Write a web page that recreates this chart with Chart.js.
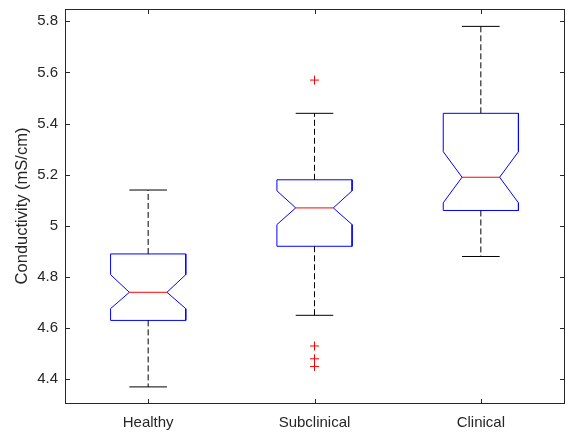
<!DOCTYPE html>
<html>
<head>
<meta charset="utf-8">
<script src="https://cdn.jsdelivr.net/npm/chart.js@4.4.0/dist/chart.umd.min.js"></script>
<style>
  html, body { margin: 0; padding: 0; background: #fff; }
  canvas { display: block; }
</style>
</head>
<body>
<canvas id="boxChart" width="567" height="433"></canvas>
<script>
// values (mS/cm)
const groups = ['Healthy', 'Subclinical', 'Clinical'];
const whiskerLow = [4.37, 4.65, 4.88];
const q1 = [4.63, 4.92, 5.06];
const notchLow = [4.676, 5.005, 5.09];
const median = [4.74, 5.07, 5.19];
const notchHigh = [4.809, 5.137, 5.29];
const q3 = [4.89, 5.18, 5.44];
const whiskerHigh = [5.14, 5.44, 5.78];
const outliers = [[], [5.57, 4.53, 4.48, 4.45], []];
const yTicks = [4.4, 4.6, 4.8, 5, 5.2, 5.4, 5.6, 5.8];

const FONT = '"Liberation Sans", Arial, Helvetica, sans-serif';
const TEXT = '#262626';
const HW = 0.226;      // half box width, in x units
const NW = HW / 2;     // half width at notch / caps

function lineSet(points, color, dash) {
  return {
    data: points,
    showLine: true,
    borderColor: color,
    borderWidth: 1,
    borderDash: dash || [],
    pointRadius: 0,
    fill: false,
    tension: 0
  };
}

const datasets = [];
groups.forEach((g, i) => {
  const x = i + 1;
  // dashed whiskers
  datasets.push(lineSet([{x: x, y: q3[i]}, {x: x, y: whiskerHigh[i]}], '#000', [6, 3]));
  datasets.push(lineSet([{x: x, y: q1[i]}, {x: x, y: whiskerLow[i]}], '#000', [6, 3]));
  // caps
  datasets.push(lineSet([{x: x - NW, y: whiskerHigh[i]}, {x: x + NW, y: whiskerHigh[i]}], '#000'));
  datasets.push(lineSet([{x: x - NW, y: whiskerLow[i]}, {x: x + NW, y: whiskerLow[i]}], '#000'));
  // notched box
  datasets.push(lineSet([
    {x: x - HW, y: q1[i]}, {x: x - HW, y: notchLow[i]}, {x: x - NW, y: median[i]},
    {x: x - HW, y: notchHigh[i]}, {x: x - HW, y: q3[i]}, {x: x + HW, y: q3[i]},
    {x: x + HW, y: notchHigh[i]}, {x: x + NW, y: median[i]}, {x: x + HW, y: notchLow[i]},
    {x: x + HW, y: q1[i]}, {x: x - HW, y: q1[i]}
  ], '#0000ff'));
  // median
  datasets.push(lineSet([{x: x - NW, y: median[i]}, {x: x + NW, y: median[i]}], '#ff0000'));
  // outliers
  if (outliers[i].length) {
    datasets.push({
      data: outliers[i].map(v => ({x: x, y: v})),
      showLine: false,
      pointStyle: 'cross',
      pointRadius: 4.5,
      pointBorderColor: '#ff0000',
      pointBorderWidth: 1,
      pointBackgroundColor: '#ff0000'
    });
  }
});

// box frame with inward ticks on all four sides
const framePlugin = {
  id: 'frame',
  afterDraw(chart) {
    const {ctx, chartArea: a, scales} = chart;
    ctx.save();
    ctx.strokeStyle = TEXT;
    ctx.lineWidth = 1;
    ctx.strokeRect(a.left + 0.5, a.top + 0.5, a.right - a.left, a.bottom - a.top);
    ctx.beginPath();
    scales.y.ticks.forEach(t => {
      const py = Math.round(scales.y.getPixelForValue(t.value)) + 0.5;
      ctx.moveTo(a.left, py); ctx.lineTo(a.left + 5, py);
      ctx.moveTo(a.right + 1, py); ctx.lineTo(a.right - 4, py);
    });
    scales.x.ticks.forEach(t => {
      const px = Math.round(scales.x.getPixelForValue(t.value)) + 0.5;
      ctx.moveTo(px, a.bottom + 1); ctx.lineTo(px, a.bottom - 4);
      ctx.moveTo(px, a.top); ctx.lineTo(px, a.top + 5);
    });
    ctx.stroke();
    ctx.restore();
  }
};

function noPad(s) {
  s.paddingTop = 0; s.paddingBottom = 0; s.paddingLeft = 0; s.paddingRight = 0;
}

new Chart(document.getElementById('boxChart'), {
  type: 'scatter',
  data: { datasets: datasets },
  options: {
    responsive: false,
    animation: false,
    layout: { autoPadding: false, padding: { top: 9, right: 3, left: 0, bottom: 0 } },
    plugins: { legend: { display: false }, tooltip: { enabled: false } },
    scales: {
      x: {
        type: 'linear',
        min: 0.5,
        max: 3.5,
        grid: { display: false, drawTicks: false },
        border: { display: false },
        afterBuildTicks: s => { s.ticks = groups.map((g, i) => ({ value: i + 1 })); },
        afterFit: s => { s.height = 30; noPad(s); },
        ticks: {
          callback: v => groups[v - 1],
          font: { family: FONT, size: 15 },
          color: TEXT,
          padding: 11,
          maxRotation: 0,
          autoSkip: false
        }
      },
      y: {
        min: 4.307,
        max: 5.848,
        grid: { display: false, drawTicks: false },
        border: { display: false },
        afterBuildTicks: s => { s.ticks = yTicks.map(v => ({ value: v })); },
        afterFit: s => { s.width = 65; noPad(s); },
        ticks: {
          callback: v => (v === 5 ? '5' : v.toFixed(1)),
          font: { family: FONT, size: 15 },
          color: TEXT,
          padding: 7
        },
        title: {
          display: true,
          text: 'Conductivity (mS/cm)',
          font: { family: FONT, size: 16.5 },
          color: TEXT,
          padding: { top: 12.5, bottom: 0 }
        }
      }
    }
  },
  plugins: [framePlugin]
});
</script>
</body>
</html>
